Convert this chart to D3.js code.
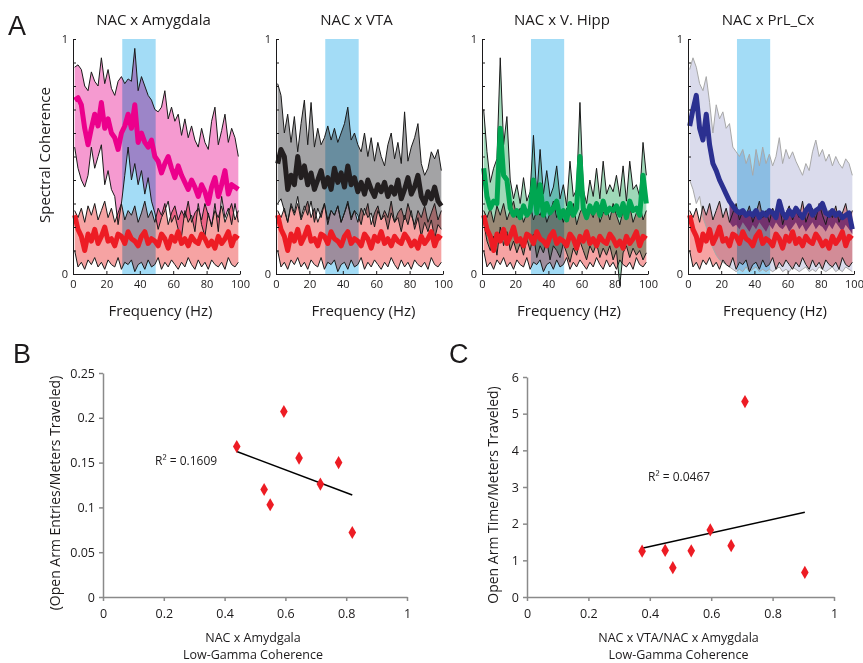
<!DOCTYPE html>
<html>
<head>
<meta charset="utf-8">
<script src="https://cdn.jsdelivr.net/npm/d3@7"></script>
<style>
  body { margin: 0; background: #fff; }
  svg { font-family: "Open Sans", sans-serif; }
  .blend { mix-blend-mode: multiply; }
</style>
</head>
<body>
<svg id="fig" width="863" height="663"></svg>
<script>
// frequency grid (Hz) for all coherence traces
const freqs = d3.range(1, 100, 2);

// control (red) trace, shared look across all four panels
const ctrlUp = [0.27,0.24,0.28,0.22,0.29,0.25,0.30,0.23,0.27,0.31,
                0.24,0.28,0.22,0.26,0.30,0.23,0.27,0.25,0.29,0.22,
                0.26,0.31,0.24,0.27,0.22,0.28,0.25,0.30,0.21,0.26,
                0.29,0.23,0.27,0.24,0.31,0.22,0.26,0.28,0.23,0.30,
                0.25,0.21,0.27,0.24,0.29,0.22,0.26,0.30,0.23,0.27];
const ctrlMean = [0.25,0.19,0.16,0.10,0.17,0.14,0.19,0.13,0.16,0.20,
                  0.14,0.15,0.12,0.17,0.16,0.13,0.18,0.15,0.14,0.12,
                  0.16,0.18,0.13,0.15,0.14,0.12,0.17,0.15,0.11,0.16,
                  0.14,0.18,0.13,0.15,0.12,0.16,0.14,0.13,0.17,0.15,
                  0.12,0.14,0.11,0.16,0.13,0.15,0.18,0.12,0.16,0.15];
const ctrlLow = [0.10,0.03,0.05,0.02,0.06,0.04,0.07,0.03,0.05,0.02,
                 0.06,0.04,0.03,0.07,0.02,0.05,0.04,0.06,0.01,0.04,
                 0.05,0.02,0.06,0.03,0.04,0.07,0.02,0.05,0.03,0.06,
                 0.04,0.02,0.05,0.03,0.07,0.04,0.02,0.06,0.03,0.05,
                 0.02,0.06,0.04,0.03,0.05,0.02,0.07,0.04,0.03,0.05];

// NAC x Amygdala
const amyUp = [0.88,0.89,0.87,0.80,0.78,0.86,0.82,0.80,0.92,0.81,
               0.87,0.79,0.76,0.82,0.84,0.81,0.83,0.82,0.96,0.78,
               0.84,0.80,0.76,0.74,0.70,0.69,0.71,0.78,0.66,0.71,
               0.65,0.68,0.59,0.66,0.58,0.63,0.57,0.54,0.62,0.56,
               0.53,0.65,0.71,0.55,0.61,0.68,0.56,0.62,0.58,0.50];
const amyMean = [0.74,0.75,0.72,0.62,0.55,0.62,0.68,0.63,0.73,0.62,
                 0.66,0.60,0.58,0.53,0.60,0.63,0.68,0.62,0.72,0.56,
                 0.60,0.56,0.54,0.57,0.50,0.48,0.43,0.47,0.50,0.45,
                 0.41,0.46,0.42,0.39,0.36,0.40,0.37,0.33,0.38,0.35,
                 0.30,0.37,0.41,0.33,0.38,0.44,0.34,0.38,0.37,0.36];
const amyLow = [0.54,0.45,0.40,0.37,0.42,0.54,0.45,0.50,0.55,0.38,
                0.44,0.36,0.33,0.21,0.30,0.42,0.54,0.40,0.47,0.38,
                0.44,0.34,0.41,0.31,0.26,0.19,0.24,0.27,0.31,0.22,
                0.25,0.19,0.16,0.27,0.22,0.25,0.18,0.30,0.21,0.16,
                0.26,0.20,0.30,0.18,0.33,0.24,0.28,0.21,0.30,0.22];

// NAC x VTA
const vtaUp = [0.81,0.76,0.60,0.68,0.56,0.67,0.52,0.64,0.74,0.55,
               0.73,0.54,0.62,0.55,0.58,0.63,0.57,0.62,0.56,0.60,
               0.64,0.71,0.57,0.60,0.55,0.52,0.60,0.50,0.58,0.48,
               0.56,0.50,0.46,0.55,0.60,0.49,0.56,0.47,0.69,0.48,
               0.54,0.58,0.64,0.47,0.42,0.45,0.52,0.49,0.53,0.44];
const vtaMean = [0.47,0.53,0.50,0.36,0.42,0.38,0.50,0.41,0.46,0.38,
                 0.43,0.36,0.40,0.44,0.37,0.41,0.36,0.45,0.39,0.43,
                 0.37,0.46,0.38,0.41,0.35,0.39,0.34,0.40,0.36,0.33,
                 0.38,0.35,0.39,0.33,0.37,0.34,0.40,0.32,0.36,0.41,
                 0.34,0.37,0.42,0.33,0.30,0.35,0.32,0.37,0.31,0.29];
const vtaLow = [0.30,0.32,0.27,0.22,0.30,0.26,0.33,0.24,0.29,0.25,
                0.31,0.22,0.28,0.24,0.30,0.21,0.27,0.25,0.29,0.22,
                0.26,0.30,0.23,0.27,0.25,0.21,0.28,0.24,0.26,0.20,
                0.27,0.23,0.25,0.19,0.26,0.22,0.24,0.18,0.25,0.21,
                0.27,0.19,0.24,0.16,0.22,0.18,0.23,0.15,0.21,0.19];

// NAC x V. Hipp
const hipUp = [0.70,0.52,0.39,0.45,0.49,0.92,0.55,0.67,0.40,0.32,
               0.38,0.30,0.41,0.31,0.35,0.59,0.33,0.53,0.34,0.44,
               0.33,0.37,0.46,0.32,0.38,0.29,0.48,0.33,0.36,0.73,
               0.36,0.30,0.40,0.33,0.45,0.32,0.48,0.34,0.38,0.35,
               0.42,0.33,0.46,0.31,0.48,0.36,0.38,0.33,0.56,0.42];
const hipMean = [0.45,0.33,0.28,0.31,0.30,0.62,0.42,0.40,0.28,0.25,
                 0.27,0.24,0.29,0.25,0.27,0.40,0.26,0.38,0.25,0.30,
                 0.26,0.28,0.31,0.24,0.27,0.23,0.30,0.25,0.28,0.50,
                 0.28,0.24,0.29,0.26,0.30,0.25,0.31,0.26,0.28,0.27,
                 0.29,0.25,0.30,0.24,0.31,0.27,0.28,0.25,0.42,0.30];
const hipLow = [0.22,0.14,0.10,0.16,0.08,0.20,0.12,0.18,0.10,0.14,
                0.09,0.13,0.08,0.15,0.10,0.17,0.07,0.12,0.09,0.14,
                0.06,0.12,0.10,0.07,0.13,0.09,0.05,0.11,0.08,0.14,
                0.10,0.06,0.12,0.09,0.13,0.07,0.11,0.08,0.12,0.06,
                0.10,-0.05,0.09,0.12,0.07,0.11,0.08,0.10,0.06,0.09];

// NAC x PrL_Cx
const prlUp = [0.87,0.92,0.88,0.81,0.78,0.84,0.73,0.60,0.72,0.66,
               0.69,0.62,0.64,0.54,0.52,0.50,0.53,0.47,0.51,0.42,
               0.53,0.46,0.54,0.47,0.51,0.46,0.50,0.58,0.47,0.53,
               0.49,0.52,0.48,0.45,0.42,0.47,0.44,0.52,0.57,0.50,
               0.53,0.48,0.51,0.46,0.50,0.47,0.45,0.49,0.47,0.42];
const prlMean = [0.63,0.70,0.76,0.62,0.57,0.68,0.55,0.47,0.44,0.40,
                 0.37,0.34,0.31,0.29,0.27,0.26,0.27,0.25,0.26,0.25,
                 0.27,0.24,0.26,0.25,0.27,0.26,0.24,0.31,0.26,0.24,
                 0.27,0.25,0.28,0.26,0.24,0.27,0.29,0.25,0.27,0.28,
                 0.30,0.26,0.25,0.27,0.25,0.26,0.24,0.25,0.26,0.19];
const prlLow = [0.40,0.36,0.30,0.33,0.24,0.20,0.15,0.11,0.08,0.06,
                0.05,0.04,0.03,0.02,0.01,0.02,0.01,0.03,0.01,0.02,
                0.03,0.01,0.02,0.01,0.02,0.01,0.02,0.03,0.01,0.02,
                0.01,0.03,0.02,0.01,0.02,0.03,0.01,0.02,0.01,0.03,
                0.02,0.01,0.02,0.03,0.01,0.02,0.01,0.03,0.02,0.01];
const prlDarkLow = [null,null,null,null,null,null,null,null,null,null,
                    null,null,0.22,0.20,0.21,0.19,0.22,0.20,0.18,0.21,
                    0.19,0.22,0.20,0.18,0.21,0.19,0.22,0.20,0.19,0.21,
                    0.18,0.20,0.22,0.19,0.21,0.18,0.20,0.22,0.19,0.21,
                    0.20,0.18,0.21,0.19,0.22,0.20,0.18,0.21,0.19,0.17];

const freqTicks = [0, 20, 40, 60, 80, 100];
const gammaBand = [29.5, 49.5];

// behaviour scatter (B and C)
const bX = [0.44, 0.595, 0.645, 0.775, 0.715, 0.53, 0.55, 0.82];
const bY = [0.168, 0.207, 0.155, 0.150, 0.126, 0.120, 0.103, 0.072];
const cX = [0.375, 0.45, 0.475, 0.535, 0.597, 0.665, 0.71, 0.905];
const cY = [1.25, 1.27, 0.80, 1.26, 1.83, 1.40, 5.33, 0.67];
const bYTicks = [0, 0.05, 0.1, 0.15, 0.2, 0.25];
const cYTicks = [0, 1, 2, 3, 4, 5, 6];
const scatXTicks = [0, 0.2, 0.4, 0.6, 0.8, 1];

const svg = d3.select("#fig");
const ink = "#1c1a1b";

let panels = [
  {title: "NAC x Amygdala", x0: 73, x1: 240, up: amyUp, mean: amyMean, low: amyLow,
   fill: "#f59ad0", lineCol: "#1a1a1a", meanCol: "#ec008c"},
  {title: "NAC x VTA", x0: 276, x1: 443, up: vtaUp, mean: vtaMean, low: vtaLow,
   fill: "#a3a3a5", lineCol: "#1a1a1a", meanCol: "#231f20"},
  {title: "NAC x V. Hipp", x0: 482, x1: 648, up: hipUp, mean: hipMean, low: hipLow,
   fill: "#9fd8b8", lineCol: "#1a1a1a", meanCol: "#00a651"},
  {title: "NAC x PrL_Cx", x0: 688, x1: 854, up: prlUp, mean: prlMean, low: prlLow,
   fill: "#dadbec", lineCol: "#a8a8a8", meanCol: "#2b3090", dark: prlDarkLow}
];

let drawPanel = (p, i) => {
  let x = d3.scaleLinear().domain([0, 100]).range([p.x0, p.x1]);
  let y = d3.scaleLinear().domain([0, 1]).range([274, 39]);
  let g = svg.append("g").attr("class", "panel" + i);

  g.append("rect")
    .attr("x", x(gammaBand[0])).attr("width", x(gammaBand[1]) - x(gammaBand[0]))
    .attr("y", y(1)).attr("height", y(0) - y(1))
    .attr("fill", "#a3dcf6");

  let area = (hi, lo) => d3.area()
    .defined((d, k) => hi[k] != null && lo[k] != null)
    .x((d, k) => x(freqs[k])).y0((d, k) => y(lo[k])).y1((d, k) => y(hi[k]));
  let line = vals => d3.line()
    .defined((d, k) => vals[k] != null)
    .x((d, k) => x(freqs[k])).y((d, k) => y(vals[k]));

  g.append("path").attr("class", "blend")
    .attr("d", area(p.up, p.low)(freqs)).attr("fill", p.fill);
  g.append("path").attr("class", "blend")
    .attr("d", area(ctrlUp, ctrlLow)(freqs)).attr("fill", "#f6a3a3");
  if (p.dark) {
    g.append("path").attr("d", area(p.mean, p.dark)(freqs))
      .attr("fill", "#6e2467").attr("opacity", 0.85);
  }

  [p.up, p.low].forEach(v => g.append("path").attr("d", line(v)(freqs))
    .attr("fill", "none").attr("stroke", p.lineCol).attr("stroke-width", 1));
  [ctrlUp, ctrlLow].forEach(v => g.append("path").attr("d", line(v)(freqs))
    .attr("fill", "none").attr("stroke", "#1a1a1a").attr("stroke-width", 1));

  g.append("path").attr("d", line(p.mean)(freqs))
    .attr("fill", "none").attr("stroke", p.meanCol).attr("stroke-width", 5)
    .attr("stroke-linejoin", "round");
  g.append("path").attr("d", line(ctrlMean)(freqs))
    .attr("fill", "none").attr("stroke", "#ed1c24").attr("stroke-width", 5)
    .attr("stroke-linejoin", "round");

  let xAxis = g.append("g").attr("transform", `translate(0,${y(0)})`)
    .call(d3.axisBottom(x).tickValues(freqTicks).tickSize(-3).tickSizeOuter(0).tickPadding(6));
  let yAxis = g.append("g").attr("transform", `translate(${p.x0},0)`)
    .call(d3.axisLeft(y).tickValues(d3.range(0, 1.05, 0.1)).tickSize(-3).tickSizeOuter(0)
      .tickPadding(5).tickFormat(d => (d < 0.01 || d > 0.99) ? d3.format("d")(Math.round(d)) : ""));
  [xAxis, yAxis].forEach(a => {
    a.selectAll("text").attr("font-size", 11).attr("fill", ink)
      .attr("font-family", "Open Sans, sans-serif");
    a.selectAll("line, path").attr("stroke", ink);
  });

  g.append("text").attr("x", (p.x0 + p.x1) / 2 - 3).attr("y", 25)
    .attr("text-anchor", "middle").attr("font-size", 15).attr("fill", ink)
    .text(p.title);
  g.append("text").attr("x", (p.x0 + p.x1) / 2 + 4).attr("y", 316)
    .attr("text-anchor", "middle").attr("font-size", 15).attr("fill", ink)
    .text("Frequency (Hz)");
};

panels.forEach(drawPanel);

svg.append("text").attr("transform", "translate(50,155) rotate(-90)")
  .attr("text-anchor", "middle").attr("font-size", 15).attr("fill", ink)
  .text("Spectral Coherence");

// least squares fit, same as used for the trendlines
let leastSquares = (xs, ys) => {
  let mx = d3.mean(xs), my = d3.mean(ys);
  let sxy = d3.sum(xs, (v, k) => (v - mx) * (ys[k] - my));
  let sxx = d3.sum(xs, v => (v - mx) * (v - mx));
  let slope = sxy / sxx;
  return [slope, my - slope * mx];
};

let scatters = [
  {xs: bX, ys: bY, left: 103, right: 407, top: 373, bottom: 597, yMax: 0.25, yTicks: bYTicks,
   yFmt: d => d === 0 ? "0" : String(d), r2: "R² = 0.1609", r2x: 155, r2y: 465,
   yLabel: "(Open Arm Entries/Meters Traveled)", ylx: 60, xLab: ["NAC x Amydgala", "Low-Gamma Coherence"]},
  {xs: cX, ys: cY, left: 527, right: 834, top: 377, bottom: 597, yMax: 6, yTicks: cYTicks,
   yFmt: d => String(d), r2: "R² = 0.0467", r2x: 648, r2y: 481,
   yLabel: "Open Arm Time/Meters Traveled)", ylx: 498, xLab: ["NAC x VTA/NAC x Amygdala", "Low-Gamma Coherence"]}
];

scatters.forEach(s => {
  let x = d3.scaleLinear().domain([0, 1]).range([s.left, s.right]);
  let y = d3.scaleLinear().domain([0, s.yMax]).range([s.bottom, s.top]);
  let g = svg.append("g");

  let xa = g.append("g").attr("transform", `translate(0,${s.bottom})`)
    .call(d3.axisBottom(x).tickValues(scatXTicks).tickSize(4).tickSizeOuter(0).tickPadding(8)
      .tickFormat(d => d === 0 ? "0" : d === 1 ? "1" : String(d)));
  let ya = g.append("g").attr("transform", `translate(${s.left},0)`)
    .call(d3.axisLeft(y).tickValues(s.yTicks).tickSize(4).tickSizeOuter(0).tickPadding(4)
      .tickFormat(s.yFmt));
  [xa, ya].forEach(a => {
    a.selectAll("line, path").attr("stroke", "#8a8a8a").attr("stroke-width", 1.5);
    a.selectAll("text").attr("font-size", 12.5).attr("fill", ink)
      .attr("font-family", "Open Sans, sans-serif");
  });

  let [m, b] = leastSquares(s.xs, s.ys);
  let xMin = d3.min(s.xs), xMax = d3.max(s.xs);
  g.append("line")
    .attr("x1", x(xMin)).attr("y1", y(m * xMin + b))
    .attr("x2", x(xMax)).attr("y2", y(m * xMax + b))
    .attr("stroke", "#000").attr("stroke-width", 1.5);

  g.selectAll(".pt").data(s.xs).join("path")
    .attr("class", "pt")
    .attr("transform", (d, k) => `translate(${x(d)},${y(s.ys[k])})`)
    .attr("d", d3.symbol(d3.symbolDiamond, 50))
    .attr("fill", "#ed1c24");

  g.append("text").attr("x", s.r2x).attr("y", s.r2y).attr("font-size", 12)
    .attr("fill", ink).text(s.r2);
  g.append("text").attr("transform", `translate(${s.ylx},${(s.top + s.bottom) / 2 + 8}) rotate(-90)`)
    .attr("text-anchor", "middle").attr("font-size", 14).attr("fill", ink)
    .text(s.yLabel);
  s.xLab.forEach((t, k) => g.append("text")
    .attr("x", (s.left + s.right) / 2 - 2).attr("y", 642 + k * 17)
    .attr("text-anchor", "middle").attr("font-size", 12.5).attr("fill", ink).text(t));
});

// panel letters
[["A", 8, 35], ["B", 13, 363], ["C", 449, 363]].forEach(([t, lx, ly]) =>
  svg.append("text").attr("x", lx).attr("y", ly).attr("font-size", 27)
    .attr("font-family", "Liberation Sans, Arial, sans-serif").attr("fill", ink).text(t));
</script>
</body>
</html>
